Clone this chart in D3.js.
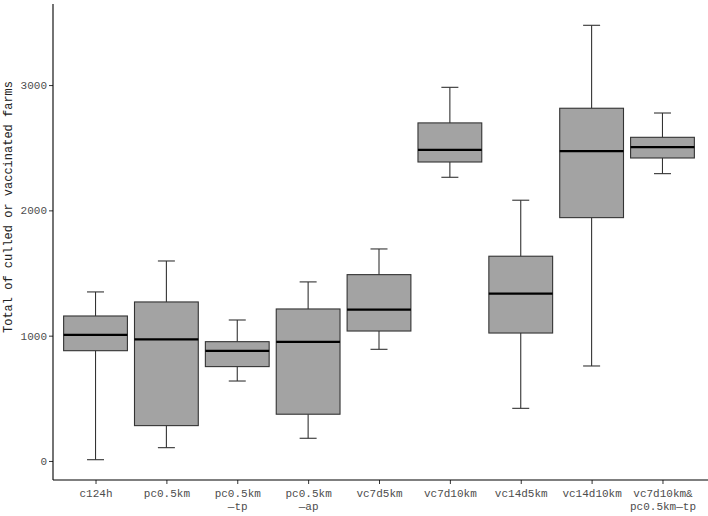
<!DOCTYPE html>
<html>
<head>
<meta charset="utf-8">
<script src="https://cdn.jsdelivr.net/npm/d3@7"></script>
<style>
  html, body { margin: 0; padding: 0; background: #fff; }
  svg { display: block; }
  text { font-family: "Liberation Mono", "DejaVu Sans Mono", monospace; }
</style>
</head>
<body>
<svg id="chart" width="708" height="516"></svg>
<script>
const categories = ["c124h", "pc0.5km", "pc0.5km\n—tp", "pc0.5km\n—ap", "vc7d5km", "vc7d10km", "vc14d5km", "vc14d10km", "vc7d10km&\npc0.5km—tp"];
const whiskerLow  = [10,   106, 638,  181, 891, 2264, 420, 758, 2293];
const q1          = [880,  282, 753,  373, 1037, 2386, 1021, 1942, 2418];
const median      = [1006, 971, 878,  950, 1208, 2482, 1335, 2472, 2504];
const q3          = [1157, 1269, 952, 1213, 1487, 2698, 1634, 2815, 2583];
const whiskerHigh = [1349, 1596, 1125, 1429, 1692, 2982, 2081, 3477, 2777];
const yTicks = [0, 1000, 2000, 3000];
const yTitle = "Total of culled or vaccinated farms";

(function () {
const svg = d3.select("#chart");
const mLeft = 53, mRight = 705, mTop = 4, mBottom = 480;

const x = d3.scalePoint().domain(categories).range([mLeft, mRight]).padding(0.6);
const y = d3.scaleLinear().domain([-152, 3647]).range([mBottom, mTop]);
const boxW = x.step() * 0.9;
const capW = 17;

const data = categories.map((c, i) => ({c, lo: whiskerLow[i], q1: q1[i], med: median[i], q3: q3[i], hi: whiskerHigh[i]}));

const g = svg.append("g");
const boxes = g.selectAll("g.box").data(data).enter().append("g").attr("class", "box");

boxes.append("line")
  .attr("x1", d => x(d.c)).attr("x2", d => x(d.c))
  .attr("y1", d => y(d.hi)).attr("y2", d => y(d.q3))
  .attr("stroke", "#333").attr("stroke-width", 1.1);
boxes.append("line")
  .attr("x1", d => x(d.c)).attr("x2", d => x(d.c))
  .attr("y1", d => y(d.q1)).attr("y2", d => y(d.lo))
  .attr("stroke", "#333").attr("stroke-width", 1.1);
boxes.append("line")
  .attr("x1", d => x(d.c) - capW / 2).attr("x2", d => x(d.c) + capW / 2)
  .attr("y1", d => y(d.hi)).attr("y2", d => y(d.hi))
  .attr("stroke", "#333").attr("stroke-width", 1.1);
boxes.append("line")
  .attr("x1", d => x(d.c) - capW / 2).attr("x2", d => x(d.c) + capW / 2)
  .attr("y1", d => y(d.lo)).attr("y2", d => y(d.lo))
  .attr("stroke", "#333").attr("stroke-width", 1.1);
boxes.append("rect")
  .attr("x", d => x(d.c) - boxW / 2).attr("width", boxW)
  .attr("y", d => y(d.q3)).attr("height", d => y(d.q1) - y(d.q3))
  .attr("fill", "#a3a3a3").attr("stroke", "#333").attr("stroke-width", 1.1);
boxes.append("line")
  .attr("x1", d => x(d.c) - boxW / 2).attr("x2", d => x(d.c) + boxW / 2)
  .attr("y1", d => y(d.med)).attr("y2", d => y(d.med))
  .attr("stroke", "#000").attr("stroke-width", 2.2);

const yAxis = d3.axisLeft(y).tickValues(yTicks).tickSize(4).tickPadding(2).tickFormat(d3.format("d"));
const ya = svg.append("g").attr("transform", `translate(${mLeft},0)`).call(yAxis);
ya.select(".domain").remove();
ya.selectAll(".tick line").attr("stroke", "#333");
ya.selectAll(".tick text").attr("fill", "#4d4d4d").style("font-size", "11px");
svg.append("line").attr("x1", mLeft).attr("x2", mLeft).attr("y1", mTop).attr("y2", mBottom)
  .attr("stroke", "#000").attr("stroke-width", 1.1);

const xAxis = d3.axisBottom(x).tickSize(4).tickPadding(3).tickFormat("");
const xa = svg.append("g").attr("transform", `translate(0,${mBottom})`).call(xAxis);
xa.select(".domain").remove();
xa.selectAll(".tick line").attr("stroke", "#333");
svg.append("line").attr("x1", mLeft).attr("x2", 708).attr("y1", mBottom).attr("y2", mBottom)
  .attr("stroke", "#000").attr("stroke-width", 1.1);

xa.selectAll(".tick").each(function(d) {
  const lines = d.split("\n");
  const t = d3.select(this).append("text")
    .attr("fill", "#4d4d4d").attr("text-anchor", "middle")
    .style("font-size", "11px");
  lines.forEach((ln, i) => {
    t.append("tspan").attr("x", 0).attr("y", 17 + i * 13).text(ln);
  });
});

svg.append("text")
  .attr("transform", `translate(12,207) rotate(-90)`)
  .attr("text-anchor", "middle")
  .attr("fill", "#222")
  .style("font-size", "12px")
  .text(yTitle);
})();
</script>
</body>
</html>
